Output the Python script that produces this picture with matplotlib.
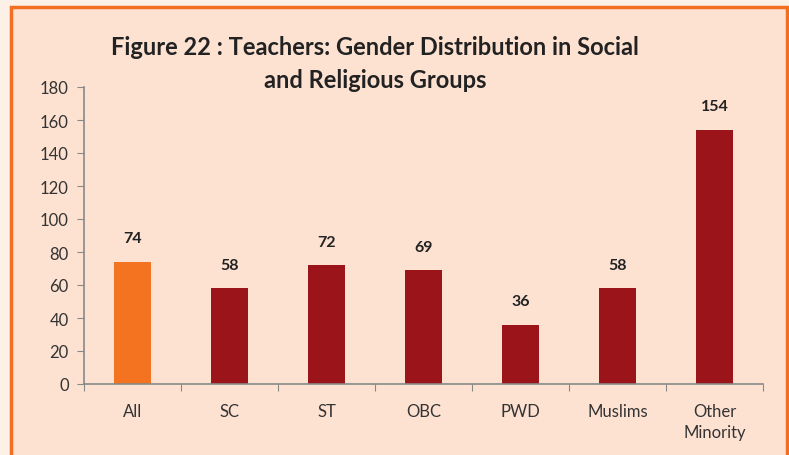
import matplotlib.pyplot as plt
from matplotlib.patches import Rectangle

# data
categories = ["All", "SC", "ST", "OBC", "PWD", "Muslims", "Other\nMinority"]
values = [74, 58, 72, 69, 36, 58, 154]
bar_colors = ["#f47321"] + ["#9b141a"] * 6

plt.rcParams['font.family'] = ['Lato', 'DejaVu Sans']

fig = plt.figure(figsize=(7.89, 4.56), dpi=100)
fig.patch.set_facecolor("#fdf0e6")

# orange framed panel
panel = Rectangle((11 / 789, -0.05), 776 / 789, 1.05 - 8 / 456, transform=fig.transFigure,
                  facecolor="#fde2d2", edgecolor="#f26f21", linewidth=2.5, zorder=-1)
fig.patches.append(panel)

ax = fig.add_axes([84 / 789, 1 - 385 / 456, (763 - 84) / 789, (385 - 88) / 456])
ax.set_facecolor("none")
ax.set_zorder(2)

x = range(len(categories))
ax.bar(x, values, width=0.39, color=bar_colors)
for i, v in zip(x, values):
    ax.text(i, v + 10, str(v), ha="center", va="bottom", fontsize=11.5,
            fontweight="bold", color="#222222")

ax.set_xlim(-0.5, len(categories) - 0.5)
ax.set_ylim(0, 180)
ax.set_yticks(range(0, 181, 20))
ax.set_xticks([i + 0.5 for i in range(-1, len(categories))], minor=False)
ax.set_xticklabels([])
ax.set_xticks(list(x), minor=True)
ax.set_xticklabels(categories, minor=True, linespacing=1.35)
ax.tick_params(axis="x", which="major", length=5, color="#888888", direction="out")
ax.tick_params(axis="x", which="minor", length=0, pad=14, labelsize=12, labelcolor="#333333")
ax.tick_params(axis="y", length=5, color="#888888", labelsize=12, labelcolor="#333333", pad=6)

for s in ["top", "right"]:
    ax.spines[s].set_visible(False)
for s in ["left", "bottom"]:
    ax.spines[s].set_color("#888888")
    ax.spines[s].set_linewidth(1.2)

fig.text(375 / 789, 1 - 64 / 456, "Figure 22 : Teachers: Gender Distribution in Social\nand Religious Groups",
         ha="center", va="center", fontsize=17, fontweight="bold", color="#222222", linespacing=1.5)

fig.savefig("out.png", dpi=100, facecolor=fig.get_facecolor())
